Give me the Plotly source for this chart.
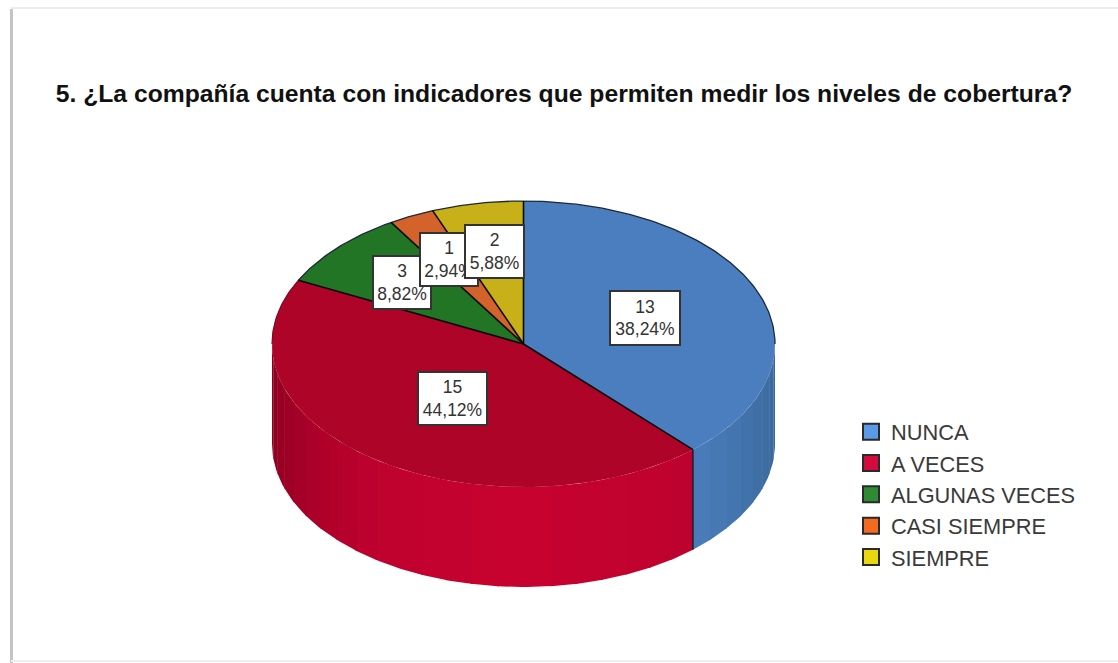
import numpy as np
import plotly.graph_objects as go

# values
categories = ["NUNCA", "A VECES", "ALGUNAS VECES", "CASI SIEMPRE", "SIEMPRE"]
counts = [13, 15, 3, 1, 2]
title_text = "5. ¿La compañía cuenta con indicadores que permiten medir los niveles de cobertura?"

top_colors = ["#4A7EBF", "#AE0428", "#237526", "#D4622B", "#C8B018"]
legend_colors = ["#5A9BE8", "#D40C3E", "#2E8B33", "#F26B21", "#E8D90F"]

# wall shading: angle (deg, clockwise from 12 o'clock) -> rgb
red_wall = [(137.66, (190, 2, 48)), (180, (200, 2, 47)), (215, (192, 2, 48)), (240, (168, 0, 40)), (270, (136, 0, 30))]
blue_wall = [(90, (58, 103, 152)), (115, (66, 113, 169)), (137.66, (74, 125, 187))]

# pie geometry in page pixels
CX, CY, RX, RY, DEPTH = 523.5, 344, 251.5, 143, 100

# label box centres, in pixels: (x, y, w, h). drawn in this order
label_boxes = {
    0: (645, 318, 68, 52),
    1: (452, 398, 67, 51),
    2: (402, 282, 56, 51),
    3: (449, 259, 56, 51),
    4: (494, 251, 57, 51),
}
label_order = [0, 1, 2, 3, 4]


def ell(deg, dy=0):
    a = np.radians(deg)
    return CX + RX * np.sin(a), CY - RY * np.cos(a) + dy


def shade(stops, deg):
    angs = [s[0] for s in stops]
    rgb = [np.interp(deg, angs, [s[1][i] for s in stops]) for i in range(3)]
    return "rgb(%d,%d,%d)" % tuple(rgb)


total = sum(counts)
edges = np.cumsum([0] + counts) / total * 360

fig = go.Figure()


def add_wall(start, end, stops, step=6):
    a = start
    while a < end - 1e-6:
        b = min(a + step, end)
        # small overlap so no white seams show between strips
        t = np.linspace(a, min(b + 0.4, end), 8)
        x1, y1 = ell(t)
        x2, y2 = ell(t[::-1], DEPTH)
        fig.add_trace(go.Scatter(
            x=np.r_[x1, x2], y=np.r_[y1, y2], mode="lines", fill="toself",
            fillcolor=shade(stops, (a + b) / 2), line=dict(width=0),
            showlegend=False, hoverinfo="skip"))
        a = b


add_wall(90, edges[1], blue_wall)
add_wall(edges[1], 270, red_wall)

# top faces
for i in range(len(counts)):
    t = np.linspace(edges[i], edges[i + 1], 120)
    x, y = ell(t)
    fig.add_trace(go.Scatter(
        x=np.r_[CX, x, CX], y=np.r_[CY, y, CY], mode="lines", fill="toself",
        fillcolor=top_colors[i], line=dict(width=0),
        showlegend=False, hoverinfo="skip"))

# back rim: dark over the back slices, softer over the red one
t = np.linspace(edges[2], 450, 200)
x, y = ell(t)
fig.add_trace(go.Scatter(x=x, y=y, mode="lines", line=dict(color="#1c2a38", width=1.3),
                         showlegend=False, hoverinfo="skip"))
t = np.linspace(270, edges[2], 40)
x, y = ell(t)
fig.add_trace(go.Scatter(x=x, y=y, mode="lines", line=dict(color="#7a0a22", width=1.2),
                         showlegend=False, hoverinfo="skip"))

# slice borders
for e in edges[:-1]:
    x, y = ell(e)
    fig.add_trace(go.Scatter(x=[CX, x], y=[CY, y], mode="lines", line=dict(color="#0a0a0a", width=1.6),
                             showlegend=False, hoverinfo="skip"))

# seam down the wall between blue and red
x, y = ell(edges[1])
fig.add_trace(go.Scatter(x=[x, x], y=[y, y + DEPTH], mode="lines", line=dict(color="#10182a", width=1.4),
                         showlegend=False, hoverinfo="skip"))

# legend entries
for name, col in zip(categories, legend_colors):
    fig.add_trace(go.Scatter(
        x=[None], y=[None], mode="markers", name=name,
        marker=dict(symbol="square", size=21, color=col, line=dict(color="#2a2a2a", width=2))))

for i in label_order:
    bx, by, w, h = label_boxes[i]
    pct = f"{100 * counts[i] / total:.2f}".replace(".", ",")
    fig.add_annotation(
        x=bx, y=by, xref="x", yref="y", text=f"{counts[i]}<br>{pct}%", showarrow=False,
        width=w, height=h, bgcolor="white", bordercolor="#333333", borderwidth=2, borderpad=0,
        font=dict(family="Liberation Sans", size=17.5, color="#333333"), align="center", valign="middle")

# page edge shadow of the pasted picture
fig.add_shape(type="line", x0=11.5, x1=11.5, y0=9, y1=663, line=dict(color="#c4c4c4", width=3), layer="below")
fig.add_shape(type="line", x0=11, x1=1118, y0=8, y1=8, line=dict(color="#ececec", width=2), layer="below")
fig.add_shape(type="line", x0=11, x1=1118, y0=661, y1=661, line=dict(color="#eeeeee", width=2), layer="below")

fig.update_layout(
    width=1118, height=663, margin=dict(l=0, r=0, t=0, b=0),
    paper_bgcolor="white", plot_bgcolor="white",
    title=dict(text=title_text, x=564 / 1118, y=1 - 93 / 663, xanchor="center", yanchor="middle",
               xref="paper", yref="paper",
               font=dict(family="Liberation Sans", size=24.7, color="#111111", weight="bold")),
    xaxis=dict(range=[0, 1118], visible=False, fixedrange=True),
    yaxis=dict(range=[663, 0], visible=False, fixedrange=True),
    legend=dict(x=851 / 1118, y=1 - 411 / 663, xanchor="left", yanchor="top", bgcolor="rgba(0,0,0,0)",
                font=dict(family="Liberation Sans", size=21.8, color="#3a3a3a"),
                itemwidth=30, traceorder="normal"),
)

# drop the browser's default page margin so the figure sits at 0,0
fig.write_html("out.html", post_script="document.body.style.margin='0';",
               config=dict(displayModeBar=False))
